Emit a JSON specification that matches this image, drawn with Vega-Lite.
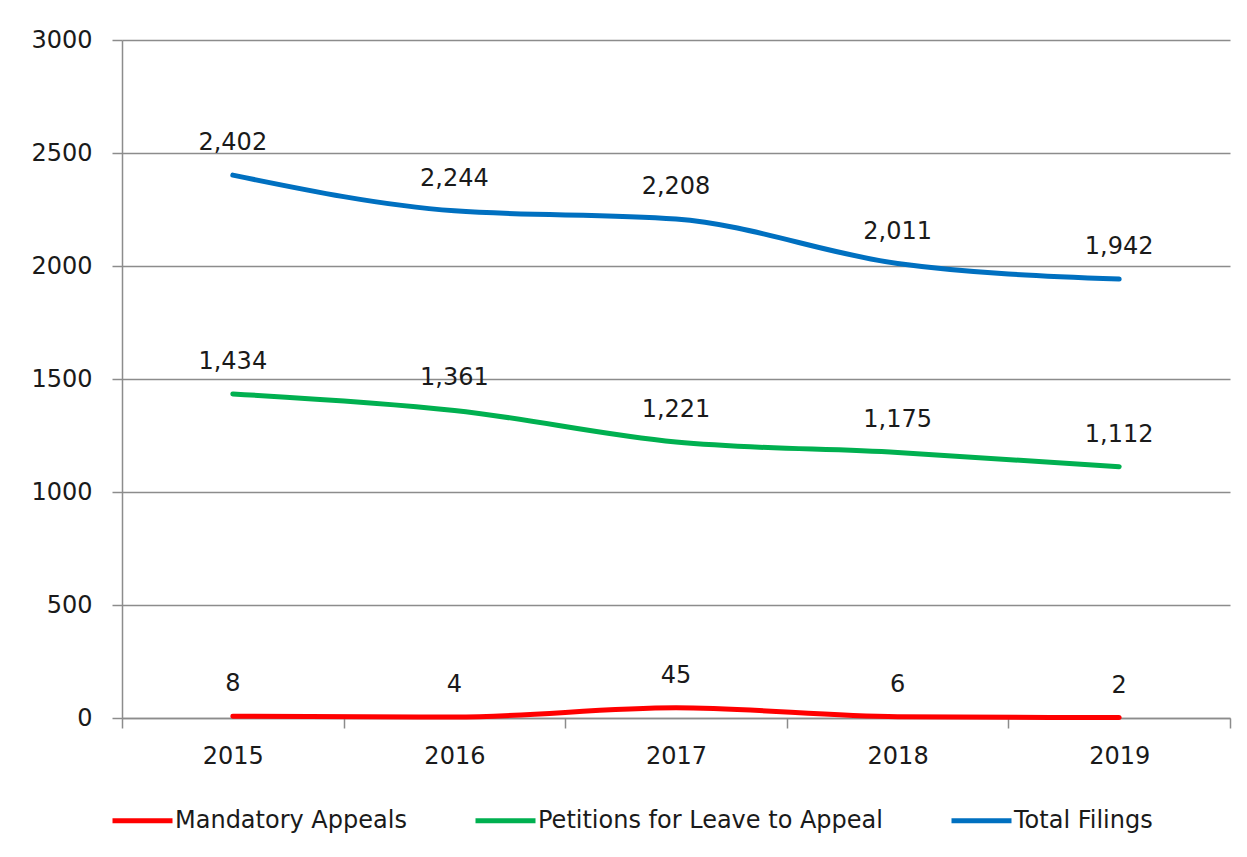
{
  "$schema": "https://vega.github.io/schema/vega-lite/v6.json",
  "width": 1108,
  "height": 678,
  "autosize": {"type": "none"},
  "padding": {"left": 122, "top": 40, "right": 17, "bottom": 139},
  "background": "white",
  "config": {
    "font": "DejaVu Sans",
    "view": {"stroke": null},
    "axis": {
      "labelFont": "DejaVu Sans",
      "labelFontSize": 24,
      "labelColor": "#1a1a1a",
      "domainColor": "#8c8c8c",
      "tickColor": "#8c8c8c",
      "gridColor": "#8c8c8c",
      "domainWidth": 1.5,
      "tickWidth": 1.5,
      "gridWidth": 1.5,
      "tickSize": 10,
      "title": null
    }
  },
  "data": {
    "values": [
      {"year": "2015", "series": "Mandatory Appeals", "value": 8},
      {"year": "2016", "series": "Mandatory Appeals", "value": 4},
      {"year": "2017", "series": "Mandatory Appeals", "value": 45},
      {"year": "2018", "series": "Mandatory Appeals", "value": 6},
      {"year": "2019", "series": "Mandatory Appeals", "value": 2},
      {"year": "2015", "series": "Petitions for Leave to Appeal", "value": 1434},
      {"year": "2016", "series": "Petitions for Leave to Appeal", "value": 1361},
      {"year": "2017", "series": "Petitions for Leave to Appeal", "value": 1221},
      {"year": "2018", "series": "Petitions for Leave to Appeal", "value": 1175},
      {"year": "2019", "series": "Petitions for Leave to Appeal", "value": 1112},
      {"year": "2015", "series": "Total Filings", "value": 2402},
      {"year": "2016", "series": "Total Filings", "value": 2244},
      {"year": "2017", "series": "Total Filings", "value": 2208},
      {"year": "2018", "series": "Total Filings", "value": 2011},
      {"year": "2019", "series": "Total Filings", "value": 1942}
    ]
  },
  "encoding": {
    "x": {
      "field": "year",
      "type": "ordinal",
      "scale": {"type": "band", "paddingInner": 0, "paddingOuter": 0},
      "axis": {
        "labelAngle": 0,
        "tickBand": "extent",
        "grid": false,
        "labelPadding": 16
      }
    },
    "y": {
      "field": "value",
      "type": "quantitative",
      "scale": {"domain": [0, 3000], "nice": false, "zero": true},
      "axis": {
        "values": [0, 500, 1000, 1500, 2000, 2500, 3000],
        "format": "d",
        "grid": true,
        "labelPadding": 20
      }
    }
  },
  "layer": [
    {
      "mark": {
        "type": "line",
        "strokeWidth": 5,
        "strokeCap": "round",
        "interpolate": "monotone"
      },
      "encoding": {
        "color": {
          "field": "series",
          "type": "nominal",
          "sort": ["Mandatory Appeals", "Petitions for Leave to Appeal", "Total Filings"],
          "scale": {
            "domain": ["Mandatory Appeals", "Petitions for Leave to Appeal", "Total Filings"],
            "range": ["#ff0000", "#00b050", "#0070c0"]
          },
          "legend": {
            "title": null,
            "orient": "none",
            "direction": "horizontal",
            "legendX": -12,
            "legendY": 748,
            "symbolType": "stroke",
            "symbolSize": 3600,
            "symbolStrokeWidth": 5,
            "labelFont": "DejaVu Sans",
            "labelFontSize": 24,
            "labelColor": "#1a1a1a",
            "labelOffset": 0,
            "columnPadding": 58,
            "labelLimit": 500
          }
        }
      }
    },
    {
      "mark": {
        "type": "text",
        "dy": -32,
        "fontSize": 24,
        "color": "#1a1a1a",
        "baseline": "middle"
      },
      "encoding": {
        "text": {"field": "value", "type": "quantitative", "format": ","}
      }
    }
  ]
}
